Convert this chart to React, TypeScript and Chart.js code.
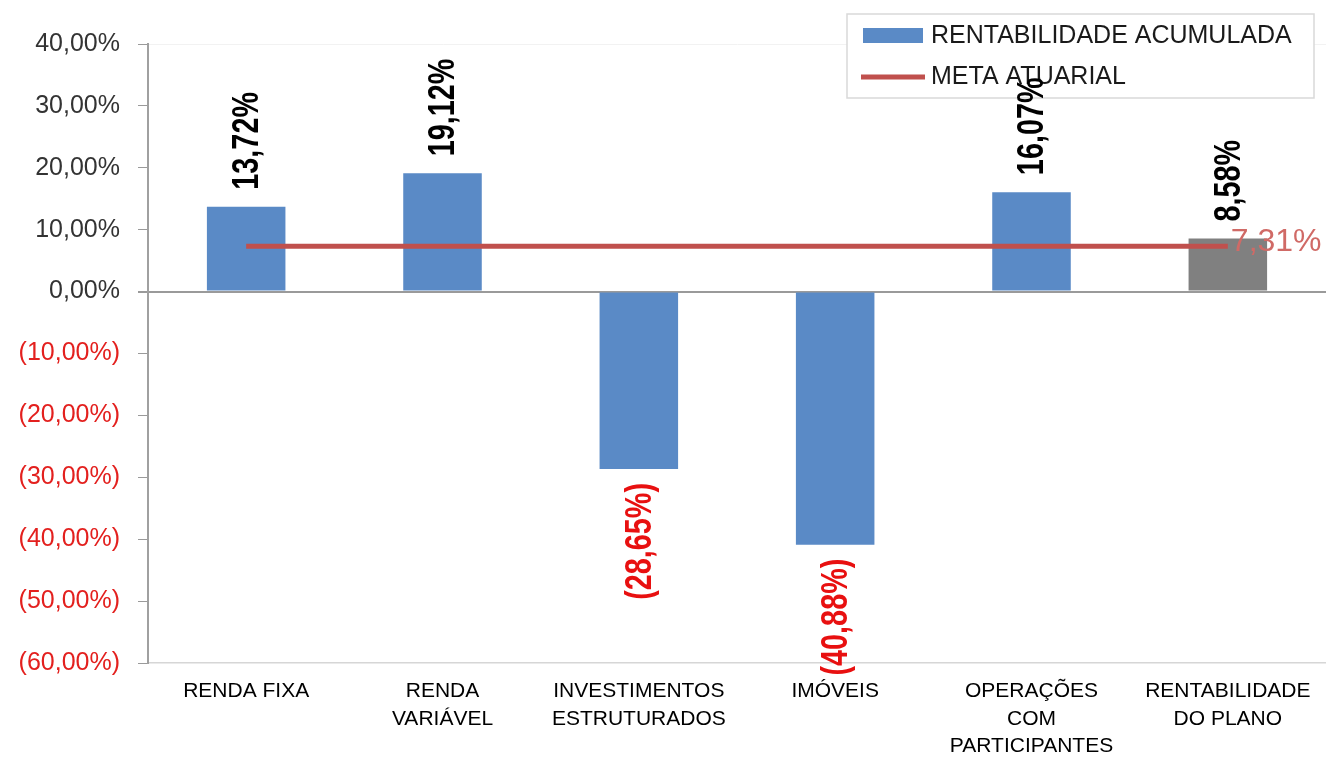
import React, { useEffect, useRef } from "react";
import { Chart, registerables } from "chart.js";

Chart.register(...registerables);

const categories: string[][] = [
  ["RENDA FIXA"],
  ["RENDA", "VARIÁVEL"],
  ["INVESTIMENTOS", "ESTRUTURADOS"],
  ["IMÓVEIS"],
  ["OPERAÇÕES", "COM", "PARTICIPANTES"],
  ["RENTABILIDADE", "DO PLANO"],
];
const rentabilidadeAcumulada: number[] = [13.72, 19.12, -28.65, -40.88, 16.07, 8.58];
const metaAtuarial: number[] = [7.31, 7.31, 7.31, 7.31, 7.31, 7.31];
const metaLabel = "7,31%";
const seriesNames = ["RENTABILIDADE ACUMULADA", "META ATUARIAL"];
const yMin = -60;
const yMax = 40;
const yStep = 10;

const BLUE = "#5a8ac6";
const GREY_BAR = "#808080";
const RED_LINE = "#c0504d";
const RED_TEXT = "#e3201e";
const FONT = '"Liberation Sans", Arial, sans-serif';

const fmtPct = (v: number) => v.toFixed(2).replace(".", ",") + "%";
const fmtSigned = (v: number) => (v < 0 ? "(" + fmtPct(Math.abs(v)) + ")" : fmtPct(v));

const customPlugin = {
  id: "customDraw",
  afterDatasetsDraw(chart: any) {
    const ctx = chart.ctx;
    ctx.save();
    const bx = 847, by = 14, bw = 467, bh = 84;
    ctx.fillStyle = "rgba(255,255,255,0.95)";
    ctx.fillRect(bx, by, bw, bh);
    ctx.strokeStyle = "#d9d9d9";
    ctx.lineWidth = 1.5;
    ctx.strokeRect(bx, by, bw, bh);
    ctx.fillStyle = BLUE;
    ctx.fillRect(863, 28, 60, 15);
    ctx.strokeStyle = RED_LINE;
    ctx.lineWidth = 5;
    ctx.beginPath();
    ctx.moveTo(861, 77);
    ctx.lineTo(925, 77);
    ctx.stroke();
    ctx.fillStyle = "#1a1a1a";
    ctx.font = "25px " + FONT;
    ctx.textAlign = "left";
    ctx.textBaseline = "middle";
    ctx.fillText(seriesNames[0], 931, 36);
    ctx.fillText(seriesNames[1], 931, 77);
    ctx.restore();
  },
  afterDraw(chart: any) {
    const ctx = chart.ctx;
    const barMeta = chart.getDatasetMeta(1);
    ctx.save();
    barMeta.data.forEach((el: any, i: number) => {
      const v = rentabilidadeAcumulada[i];
      const txt = fmtSigned(v);
      ctx.save();
      const gap = v >= 0 ? 17 : 14;
      const y = v >= 0 ? el.y - gap : el.y + gap;
      ctx.translate(el.x + 2, y);
      ctx.rotate(-Math.PI / 2);
      ctx.scale(0.8, 1);
      ctx.font = "bold 36px " + FONT;
      ctx.fillStyle = v >= 0 ? "#000000" : "#e81010";
      ctx.textBaseline = "middle";
      ctx.textAlign = v >= 0 ? "left" : "right";
      ctx.fillText(txt, 0, 0);
      ctx.restore();
    });
    const lineMeta = chart.getDatasetMeta(0);
    const last = lineMeta.data[lineMeta.data.length - 1];
    ctx.font = "32px " + FONT;
    ctx.fillStyle = "#d06a66";
    ctx.textAlign = "left";
    ctx.textBaseline = "middle";
    ctx.fillText(metaLabel, last.x + 3, last.y - 4);
    ctx.restore();
  },
};

export default function App() {
  const ref = useRef<HTMLCanvasElement | null>(null);
  useEffect(() => {
    if (!ref.current) return;
    Chart.defaults.font.family = FONT;
    const chart = new Chart(ref.current, {
      type: "bar",
      data: {
        labels: categories,
        datasets: [
          {
            type: "line",
            label: seriesNames[1],
            data: metaAtuarial,
            borderColor: RED_LINE,
            backgroundColor: RED_LINE,
            borderWidth: 5,
            pointRadius: 0,
            order: 0,
          } as any,
          {
            type: "bar",
            label: seriesNames[0],
            data: rentabilidadeAcumulada,
            backgroundColor: [BLUE, BLUE, BLUE, BLUE, BLUE, GREY_BAR],
            barPercentage: 0.4,
            categoryPercentage: 1,
            order: 1,
          },
        ],
      },
      options: {
        responsive: false,
        animation: false,
        layout: { padding: { top: 44, right: 0, left: 0, bottom: 0 } },
        plugins: {
          legend: { display: false },
          tooltip: { enabled: false },
        },
        scales: {
          x: {
            offset: true,
            grid: { display: false, drawTicks: false },
            border: { display: true, color: "#d6d6d6", width: 1.5 },
            ticks: {
              color: "#000",
              font: { size: 21, lineHeight: 1.3 },
              padding: 15,
              maxRotation: 0,
              autoSkip: false,
            },
            afterFit: (s: any) => {
              s.height = 95;
            },
          },
          y: {
            min: yMin,
            max: yMax,
            grid: {
              color: (c: any) =>
                c.tick && c.tick.value === 0 ? "#9a9a9a" : c.tick && c.tick.value === yMax ? "#f2f2f2" : "rgba(0,0,0,0)",
              tickColor: "#9a9a9a",
              tickLength: 10,
              lineWidth: (c: any) => (c.tick && c.tick.value === 0 ? 2 : 1),
            },
            border: { display: true, color: "#a0a0a0", width: 2 },
            ticks: {
              stepSize: yStep,
              padding: 18,
              font: { size: 25 },
              color: (c: any) => (c.tick && c.tick.value < 0 ? RED_TEXT : "#333333"),
              callback: (v: any) => fmtSigned(Number(v)),
            },
            afterFit: (s: any) => {
              s.width = 148;
            },
          },
        },
      },
      plugins: [customPlugin],
    });
    return () => chart.destroy();
  }, []);
  return (
    <div style={{ position: "fixed", left: 0, top: 0, width: 1326, height: 758, background: "#fff" }}>
      <canvas ref={ref} width={1326} height={758} style={{ display: "block" }} />
    </div>
  );
}
